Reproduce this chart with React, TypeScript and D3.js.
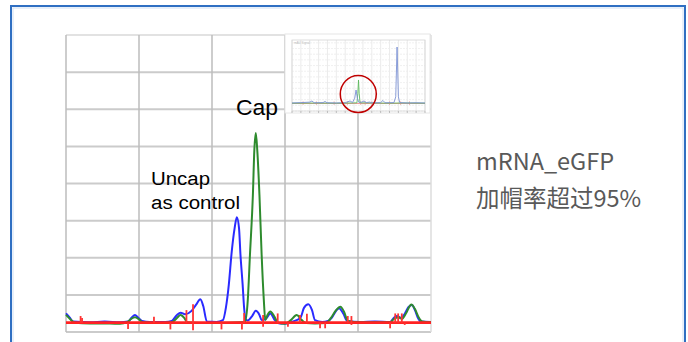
import React, { useEffect, useRef } from 'react';
import * as d3 from 'd3';

// main trace, x = retention (arb.), y = signal (arb.)
const blueTrace: [number, number][] = [
  [0, 5.0], [0.55, 3.8], [0.96, 2.8], [3.3, 2.6], [5.3, 2.8], [7.4, 2.6], [8.5, 2.8],
  [9.0, 3.9], [9.45, 4.6], [9.86, 3.9], [10.4, 3.0], [11.5, 2.7], [13.6, 2.7], [14.5, 3.0],
  [15.2, 4.6], [15.7, 5.2], [16.3, 4.8], [17.2, 5.7], [17.8, 7.3], [18.4, 8.8], [18.8, 7.0],
  [19.3, 2.8], [20.6, 2.7], [21.5, 3.2], [21.9, 6.5], [22.3, 12.7], [22.7, 21.6], [23.1, 28.0],
  [23.4, 30.9], [23.7, 28.0], [23.9, 20.8], [24.2, 12.7], [24.4, 6.5], [24.6, 3.5], [24.9, 3.1],
  [25.5, 4.3], [26.0, 5.7], [26.5, 4.6], [26.8, 3.2], [27.4, 3.6], [28.0, 5.0], [28.6, 3.2],
  [29.3, 2.3], [30.3, 2.3], [31.0, 2.8], [32.1, 3.8], [32.6, 6.5], [33.2, 7.5], [33.7, 5.9],
  [34.1, 3.2], [35.1, 2.7], [35.9, 3.0], [36.4, 3.8], [37.0, 5.7], [37.4, 6.4], [38.0, 4.9],
  [38.5, 3.0], [40.3, 2.7], [42.3, 2.8], [44.4, 2.7], [44.9, 3.8], [45.3, 4.3], [45.9, 3.8],
  [46.4, 4.9], [46.9, 6.7], [47.4, 7.3], [47.8, 5.9], [48.2, 3.8], [48.6, 2.8], [50, 2.7],
];

const greenTrace: [number, number][] = [
  [0, 4.6], [0.55, 3.5], [1.2, 2.5], [3.3, 2.3], [6.0, 2.3], [7.4, 2.2], [8.4, 2.7],
  [8.9, 3.5], [9.45, 4.0], [10.0, 3.4], [10.5, 2.6], [12.9, 2.4], [14.5, 2.6], [15.2, 3.8],
  [15.7, 4.6], [16.2, 3.8], [16.6, 2.6], [18.4, 2.4], [21.1, 2.4], [23.8, 2.6], [24.5, 2.7],
  [24.9, 8.6], [25.2, 20.8], [25.6, 36.9], [25.8, 49.0], [26.0, 53.6], [26.2, 49.0], [26.5, 36.9],
  [26.8, 20.8], [27.1, 8.6], [27.3, 3.2], [27.6, 4.6], [28.0, 5.5], [28.5, 4.3], [29.0, 2.6],
  [30.0, 2.2], [30.8, 3.2], [31.6, 4.6], [32.3, 3.2], [32.9, 2.4], [34.1, 2.3], [35.6, 2.4],
  [36.3, 3.8], [37.0, 5.9], [37.6, 6.8], [38.1, 5.4], [38.6, 3.0], [40.3, 2.6], [44.4, 2.6],
  [44.9, 3.5], [45.5, 4.0], [46.0, 3.5], [46.6, 5.1], [47.0, 6.7], [47.3, 7.4], [47.8, 6.2],
  [48.3, 4.0], [48.8, 2.8], [50, 2.6],
];

const redBase = 2.5;
// [x, top, bottom]
const redSpikes: [number, number, number][] = [
  [2.0, 4.3, 2.5], [2.2, 3.8, 2.5], [8.5, 2.5, 0.8], [12.05, 4.1, 2.5], [14.3, 2.5, 0.7],
  [16.5, 5.9, 2.5], [17.4, 7.5, 0.5], [21.3, 2.5, 0.7], [24.1, 2.5, 0.7], [24.4, 5.1, 2.5],
  [27.0, 4.6, 1.4], [29.0, 5.0, 2.5], [30.4, 2.5, 1.4], [32.05, 4.6, 2.5], [33.0, 4.9, 2.5],
  [34.8, 2.5, 1.0], [35.5, 2.5, 1.0], [38.6, 4.3, 2.5], [39.1, 4.3, 1.9], [44.4, 2.5, 1.0],
  [45.1, 5.0, 2.5], [45.5, 5.0, 2.5], [46.0, 5.0, 2.5], [46.4, 2.5, 1.9],
];

// inset (full chromatogram)
const insetBlue: [number, number][] = [
  [0, 11.3], [4, 11.8], [8, 12.5], [9, 14.1], [10, 11.6], [14, 11.8], [14.9, 13.4], [15.8, 11.6],
  [20, 11.3], [24, 11.8], [26.2, 14.1], [27.3, 12], [28.3, 18], [28.9, 29.6], [29.5, 18],
  [30.2, 12], [31.5, 12.6], [32.5, 14.1], [33.5, 11.8], [35, 12.6], [36, 11.5], [40, 11.8],
  [41, 14.8], [42, 11.6], [46, 11.8], [46.8, 20], [47.4, 90.1], [48, 20], [48.6, 11.8],
  [52, 11.3], [56, 11.6], [60, 11.3],
];
const insetGreen: [number, number][] = [
  [0, 11.0], [10, 11.2], [20, 11.0], [27, 11.3], [29.3, 11.5], [29.7, 25], [30.0, 43.7],
  [30.3, 25], [30.7, 11.5], [36, 11.3], [44, 11.0], [50, 11.3], [60, 11.0],
];
const insetRedBase = 10.6;
const insetRedSpikes = [5, 11, 19, 25, 31, 33, 36, 44, 49, 53];

const xTicks = [0, 10, 20, 30, 40, 50];
const yTicks = [0, 10, 20, 30, 40, 50, 60, 70, 80];

const Chart = () => {
  const svgRef = useRef<SVGSVGElement>(null);

  useEffect(() => {
    const svg = d3.select(svgRef.current);
    svg.selectAll('*').remove();

    const width = 688;
    const height = 342;
    svg.attr('width', width).attr('height', height);

    svg.append('rect').attr('width', width).attr('height', height).attr('fill', 'white');

    // slide frame
    svg.append('rect')
      .attr('x', 11).attr('y', 6).attr('width', 674).attr('height', 360)
      .attr('fill', 'none').attr('stroke', '#2f6fc2').attr('stroke-width', 2);
    svg.append('rect')
      .attr('x', 13).attr('y', 8).attr('width', 670).attr('height', 360)
      .attr('fill', 'none').attr('stroke', '#cfe0f4').attr('stroke-width', 1);

    const margin = { top: 35, right: 257, bottom: 10, left: 66 };
    const x = d3.scaleLinear().domain([0, 50]).range([margin.left, width - margin.right]);
    const y = d3.scaleLinear().domain([0, 80]).range([height - margin.bottom, margin.top]);

    // grid
    svg.append('g').selectAll('line')
      .data(yTicks)
      .enter().append('line')
      .attr('x1', x(0)).attr('x2', x(50))
      .attr('y1', d => y(d)).attr('y2', d => y(d))
      .attr('stroke', d => (d === 80 ? '#e2e2e2' : '#cbcbcb'))
      .attr('stroke-width', 2);
    svg.append('g').selectAll('line')
      .data(xTicks)
      .enter().append('line')
      .attr('x1', d => x(d)).attr('x2', d => x(d))
      .attr('y1', y(80)).attr('y2', y(0))
      .attr('stroke', d => (d === 50 ? '#dcdcdc' : '#bdbdbd'))
      .attr('stroke-width', 1.5);

    const line = d3.line<[number, number]>()
      .x(d => x(d[0]))
      .y(d => y(d[1]))
      .curve(d3.curveMonotoneX);

    svg.append('path').datum(blueTrace)
      .attr('d', line).attr('fill', 'none')
      .attr('stroke', '#2a2aff').attr('stroke-width', 2);
    svg.append('path').datum(greenTrace)
      .attr('d', line).attr('fill', 'none')
      .attr('stroke', '#2e8b2e').attr('stroke-width', 2);

    // red trace: flat baseline with spikes
    svg.append('line')
      .attr('x1', x(0)).attr('x2', x(50))
      .attr('y1', y(redBase)).attr('y2', y(redBase))
      .attr('stroke', '#ff2222').attr('stroke-width', 2.8);
    svg.append('g').selectAll('line')
      .data(redSpikes)
      .enter().append('line')
      .attr('x1', d => x(d[0])).attr('x2', d => x(d[0]))
      .attr('y1', d => y(d[1])).attr('y2', d => y(d[2]))
      .attr('stroke', '#ff3333').attr('stroke-width', 1.8);

    // inset
    const ins = svg.append('g');
    ins.append('rect')
      .attr('x', 285).attr('y', 34).attr('width', 145).attr('height', 79)
      .attr('fill', 'white').attr('stroke', '#e6e6e6').attr('stroke-width', 1);

    const ix = d3.scaleLinear().domain([0, 60]).range([292, 425]);
    const iy = d3.scaleLinear().domain([0, 100]).range([111, 40]);

    ins.append('g').selectAll('line')
      .data(d3.range(0, 61, 4))
      .enter().append('line')
      .attr('x1', d => ix(d)).attr('x2', d => ix(d))
      .attr('y1', iy(100)).attr('y2', iy(0))
      .attr('stroke', '#e6e6e6').attr('stroke-width', 0.8);
    ins.append('g').selectAll('line')
      .data(d3.range(0, 101, 8))
      .enter().append('line')
      .attr('x1', ix(0)).attr('x2', ix(60))
      .attr('y1', d => iy(d)).attr('y2', d => iy(d))
      .attr('stroke', '#ececec').attr('stroke-width', 0.8)
      .attr('stroke-dasharray', '2,1');
    ins.append('rect')
      .attr('x', ix(0)).attr('y', iy(100)).attr('width', ix(60) - ix(0)).attr('height', iy(0) - iy(100))
      .attr('fill', 'none').attr('stroke', '#d4d4d4').attr('stroke-width', 0.8);
    ins.append('g').selectAll('line')
      .data(d3.range(0, 61, 4))
      .enter().append('line')
      .attr('x1', d => ix(d)).attr('x2', d => ix(d))
      .attr('y1', iy(0)).attr('y2', iy(0) + 2)
      .attr('stroke', '#999').attr('stroke-width', 0.6);
    ins.append('text')
      .attr('x', ix(0) + 2).attr('y', iy(100) + 4)
      .attr('font-size', 3).attr('fill', '#bbb')
      .attr('font-family', 'Liberation Sans, Arial, sans-serif')
      .text('mAU  Signal');

    const iline = d3.line<[number, number]>()
      .x(d => ix(d[0]))
      .y(d => iy(d[1]));

    ins.append('line')
      .attr('x1', ix(0)).attr('x2', ix(60))
      .attr('y1', iy(insetRedBase)).attr('y2', iy(insetRedBase))
      .attr('stroke', '#f29a9a').attr('stroke-width', 1);
    ins.append('g').selectAll('line')
      .data(insetRedSpikes)
      .enter().append('line')
      .attr('x1', d => ix(d)).attr('x2', d => ix(d))
      .attr('y1', iy(insetRedBase + 3)).attr('y2', iy(insetRedBase - 2))
      .attr('stroke', '#f29a9a').attr('stroke-width', 0.8);
    ins.append('path').datum(insetGreen)
      .attr('d', iline).attr('fill', 'none')
      .attr('stroke', '#5cb85c').attr('stroke-width', 0.9);
    ins.append('path').datum(insetBlue)
      .attr('d', iline).attr('fill', 'none')
      .attr('stroke', '#7c92d4').attr('stroke-width', 0.9);

    ins.append('ellipse')
      .attr('cx', ix(29.9)).attr('cy', iy(23.9))
      .attr('rx', 18).attr('ry', 18.5)
      .attr('fill', 'none').attr('stroke', '#c00000').attr('stroke-width', 1.5);

    // peak labels
    const labelFont = 'Liberation Sans, Arial, sans-serif';
    svg.append('text')
      .attr('x', 236).attr('y', 115)
      .attr('font-family', labelFont).attr('font-size', 22)
      .attr('textLength', 42).attr('lengthAdjust', 'spacingAndGlyphs')
      .attr('fill', '#000')
      .text('Cap');
    svg.append('text')
      .attr('x', 151).attr('y', 185)
      .attr('font-family', labelFont).attr('font-size', 18)
      .attr('textLength', 59).attr('lengthAdjust', 'spacingAndGlyphs')
      .attr('fill', '#000')
      .text('Uncap');
    svg.append('text')
      .attr('x', 151).attr('y', 209)
      .attr('font-family', labelFont).attr('font-size', 18)
      .attr('textLength', 89).attr('lengthAdjust', 'spacingAndGlyphs')
      .attr('fill', '#000')
      .text('as control');

    // side note
    const noteFont = '"Noto Sans CJK SC", "Noto Sans", sans-serif';
    svg.append('text')
      .attr('x', 476).attr('y', 170)
      .attr('font-family', noteFont).attr('font-size', 23.5)
      .attr('fill', '#595959')
      .text('mRNA_eGFP');
    svg.append('text')
      .attr('x', 476).attr('y', 207)
      .attr('font-family', noteFont).attr('font-size', 23.5)
      .attr('fill', '#595959')
      .text('加帽率超过95%');
  }, []);

  return <svg ref={svgRef} style={{ position: 'absolute', left: 0, top: 0, display: 'block' }}></svg>;
};

export default function App() {
  return <Chart />;
}
